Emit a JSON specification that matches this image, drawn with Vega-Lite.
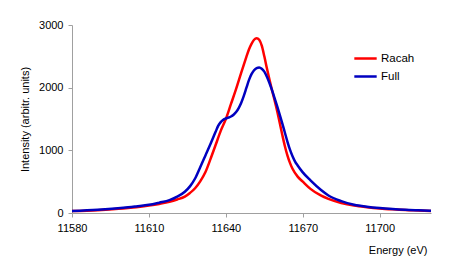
{
  "$schema": "https://vega.github.io/schema/vega-lite/v6.json",
  "width": 359,
  "height": 188,
  "autosize": {"type": "none"},
  "padding": {"left": 72, "top": 25, "right": 32, "bottom": 65},
  "background": "white",
  "config": {
    "view": {"stroke": null},
    "font": "Liberation Sans",
    "axis": {"grid": false, "domainColor": "#a0a0a0", "tickColor": "#a0a0a0", "labelColor": "#000", "titleColor": "#000", "labelFont": "Liberation Sans", "titleFont": "Liberation Sans", "labelFontSize": 11, "titleFontSize": 11, "titleFontWeight": "normal", "tickSize": 4, "labelFlush": false}
  },
  "data": {"values": [
    {"E": 11580, "I": 30, "s": "Racah"},
    {"E": 11590, "I": 45, "s": "Racah"},
    {"E": 11600, "I": 70, "s": "Racah"},
    {"E": 11605, "I": 90, "s": "Racah"},
    {"E": 11610, "I": 118, "s": "Racah"},
    {"E": 11614, "I": 145, "s": "Racah"},
    {"E": 11618, "I": 178, "s": "Racah"},
    {"E": 11621, "I": 215, "s": "Racah"},
    {"E": 11624, "I": 262, "s": "Racah"},
    {"E": 11626, "I": 320, "s": "Racah"},
    {"E": 11628, "I": 395, "s": "Racah"},
    {"E": 11630, "I": 505, "s": "Racah"},
    {"E": 11632, "I": 650, "s": "Racah"},
    {"E": 11634, "I": 860, "s": "Racah"},
    {"E": 11636, "I": 1085, "s": "Racah"},
    {"E": 11638, "I": 1310, "s": "Racah"},
    {"E": 11640, "I": 1500, "s": "Racah"},
    {"E": 11642, "I": 1740, "s": "Racah"},
    {"E": 11644, "I": 1980, "s": "Racah"},
    {"E": 11646, "I": 2240, "s": "Racah"},
    {"E": 11648, "I": 2490, "s": "Racah"},
    {"E": 11649, "I": 2610, "s": "Racah"},
    {"E": 11650, "I": 2700, "s": "Racah"},
    {"E": 11651, "I": 2765, "s": "Racah"},
    {"E": 11652, "I": 2790, "s": "Racah"},
    {"E": 11653, "I": 2765, "s": "Racah"},
    {"E": 11654, "I": 2670, "s": "Racah"},
    {"E": 11655, "I": 2500, "s": "Racah"},
    {"E": 11656, "I": 2310, "s": "Racah"},
    {"E": 11657, "I": 2130, "s": "Racah"},
    {"E": 11658, "I": 1960, "s": "Racah"},
    {"E": 11659, "I": 1800, "s": "Racah"},
    {"E": 11660, "I": 1630, "s": "Racah"},
    {"E": 11661, "I": 1440, "s": "Racah"},
    {"E": 11662, "I": 1250, "s": "Racah"},
    {"E": 11663, "I": 1070, "s": "Racah"},
    {"E": 11664, "I": 920, "s": "Racah"},
    {"E": 11665, "I": 800, "s": "Racah"},
    {"E": 11666, "I": 705, "s": "Racah"},
    {"E": 11668, "I": 580, "s": "Racah"},
    {"E": 11670, "I": 500, "s": "Racah"},
    {"E": 11673, "I": 385, "s": "Racah"},
    {"E": 11677, "I": 280, "s": "Racah"},
    {"E": 11680, "I": 225, "s": "Racah"},
    {"E": 11685, "I": 160, "s": "Racah"},
    {"E": 11690, "I": 118, "s": "Racah"},
    {"E": 11695, "I": 92, "s": "Racah"},
    {"E": 11700, "I": 72, "s": "Racah"},
    {"E": 11705, "I": 58, "s": "Racah"},
    {"E": 11710, "I": 47, "s": "Racah"},
    {"E": 11715, "I": 40, "s": "Racah"},
    {"E": 11720, "I": 33, "s": "Racah"},
    {"E": 11580, "I": 30, "s": "Full"},
    {"E": 11590, "I": 50, "s": "Full"},
    {"E": 11600, "I": 82, "s": "Full"},
    {"E": 11605, "I": 105, "s": "Full"},
    {"E": 11610, "I": 130, "s": "Full"},
    {"E": 11614, "I": 165, "s": "Full"},
    {"E": 11618, "I": 205, "s": "Full"},
    {"E": 11621, "I": 260, "s": "Full"},
    {"E": 11624, "I": 340, "s": "Full"},
    {"E": 11626, "I": 425, "s": "Full"},
    {"E": 11628, "I": 550, "s": "Full"},
    {"E": 11630, "I": 730, "s": "Full"},
    {"E": 11632, "I": 915, "s": "Full"},
    {"E": 11634, "I": 1100, "s": "Full"},
    {"E": 11636, "I": 1295, "s": "Full"},
    {"E": 11637, "I": 1390, "s": "Full"},
    {"E": 11638, "I": 1450, "s": "Full"},
    {"E": 11639, "I": 1488, "s": "Full"},
    {"E": 11640, "I": 1508, "s": "Full"},
    {"E": 11641, "I": 1522, "s": "Full"},
    {"E": 11642, "I": 1540, "s": "Full"},
    {"E": 11643, "I": 1568, "s": "Full"},
    {"E": 11644, "I": 1612, "s": "Full"},
    {"E": 11645, "I": 1675, "s": "Full"},
    {"E": 11646, "I": 1760, "s": "Full"},
    {"E": 11647, "I": 1870, "s": "Full"},
    {"E": 11648, "I": 1995, "s": "Full"},
    {"E": 11649, "I": 2120, "s": "Full"},
    {"E": 11650, "I": 2215, "s": "Full"},
    {"E": 11651, "I": 2278, "s": "Full"},
    {"E": 11652, "I": 2313, "s": "Full"},
    {"E": 11653, "I": 2322, "s": "Full"},
    {"E": 11654, "I": 2302, "s": "Full"},
    {"E": 11655, "I": 2255, "s": "Full"},
    {"E": 11656, "I": 2175, "s": "Full"},
    {"E": 11657, "I": 2075, "s": "Full"},
    {"E": 11658, "I": 1960, "s": "Full"},
    {"E": 11659, "I": 1835, "s": "Full"},
    {"E": 11660, "I": 1705, "s": "Full"},
    {"E": 11661, "I": 1570, "s": "Full"},
    {"E": 11662, "I": 1430, "s": "Full"},
    {"E": 11663, "I": 1285, "s": "Full"},
    {"E": 11664, "I": 1140, "s": "Full"},
    {"E": 11665, "I": 1010, "s": "Full"},
    {"E": 11666, "I": 905, "s": "Full"},
    {"E": 11667, "I": 820, "s": "Full"},
    {"E": 11668, "I": 758, "s": "Full"},
    {"E": 11670, "I": 648, "s": "Full"},
    {"E": 11673, "I": 520, "s": "Full"},
    {"E": 11677, "I": 370, "s": "Full"},
    {"E": 11680, "I": 280, "s": "Full"},
    {"E": 11685, "I": 190, "s": "Full"},
    {"E": 11690, "I": 132, "s": "Full"},
    {"E": 11695, "I": 100, "s": "Full"},
    {"E": 11700, "I": 78, "s": "Full"},
    {"E": 11705, "I": 62, "s": "Full"},
    {"E": 11710, "I": 50, "s": "Full"},
    {"E": 11715, "I": 42, "s": "Full"},
    {"E": 11720, "I": 35, "s": "Full"}
  ]},
  "mark": {"type": "line", "interpolate": "monotone", "strokeWidth": 2.5},
  "encoding": {
    "x": {"field": "E", "type": "quantitative", "scale": {"domain": [11580, 11720], "nice": false, "zero": false},
      "axis": {"values": [11580, 11610, 11640, 11670, 11700], "format": "d", "title": "Energy (eV)", "labelPadding": 5, "titleAnchor": "end", "titleAlign": "right", "titleX": 355, "titleY": 37, "titleBaseline": "middle"}},
    "y": {"field": "I", "type": "quantitative", "scale": {"domain": [0, 3000], "nice": false},
      "axis": {"values": [0, 1000, 2000, 3000], "format": "d", "title": "Intensity (arbitr. units)", "labelPadding": 5, "titlePadding": 8}},
    "color": {"field": "s", "type": "nominal", "sort": ["Racah", "Full"],
      "scale": {"domain": ["Racah", "Full"], "range": ["#ff0000", "#0000c0"]},
      "legend": {"title": null, "orient": "none", "legendX": 281, "legendY": 21, "symbolType": "stroke", "symbolSize": 500, "symbolStrokeWidth": 2.5, "labelFontSize": 11.5, "labelFont": "Liberation Sans", "labelColor": "#000", "labelOffset": 3, "rowPadding": -3, "padding": 0}}
  }
}
